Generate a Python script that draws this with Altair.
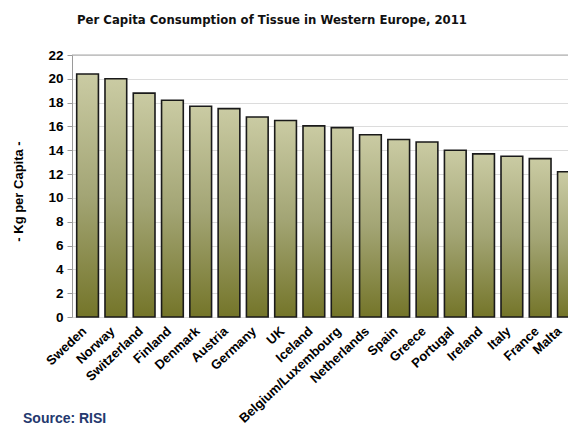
import altair as alt
import pandas as pd

countries = ["Sweden", "Norway", "Switzerland", "Finland", "Denmark", "Austria",
             "Germany", "UK", "Iceland", "Belgium/Luxembourg", "Netherlands",
             "Spain", "Greece", "Portugal", "Ireland", "Italy", "France", "Malta"]
values = [20.4, 20.0, 18.8, 18.2, 17.7, 17.5, 16.8, 16.5, 16.05, 15.9, 15.3,
          14.9, 14.7, 14.0, 13.7, 13.5, 13.3, 12.2]
y_ticks = list(range(0, 23, 2))

df = pd.DataFrame({"country": countries, "kg": values})

W = 496
H = 262

grad = alt.Gradient(
    gradient="linear",
    stops=[alt.GradientStop(color="#cacba3", offset=0),
           alt.GradientStop(color="#a3a575", offset=0.5),
           alt.GradientStop(color="#747529", offset=1)],
    x1=1, x2=1, y1=0, y2=1,
)

yscale = alt.Scale(domain=[0, 22], nice=False)

bars = alt.Chart(df).mark_bar(
    fill=grad, stroke="#1a1a1a", strokeWidth=1.6
).encode(
    x=alt.X("country:N", sort=countries, title=None,
            scale=alt.Scale(paddingInner=0.232, paddingOuter=0.166, range=[0, 512]),
            axis=alt.Axis(labelAngle=-43, labelAlign="right", labelBaseline="middle",
                          labelFont="Liberation Sans", labelFontWeight="bold",
                          labelFontSize=13, labelColor="#000000", labelPadding=12,
                          labelOffset={"condition": {"test": "datum.value == 'Malta'", "value": -9},
                                       "value": -3},
                          labelOverlap=False, ticks=False, domain=False)),
    y=alt.Y("kg:Q", title="- Kg per Capita -", scale=yscale,
            axis=alt.Axis(values=y_ticks, grid=True, gridColor="#dcdcdc",
                          gridWidth=1, domainColor="#9a9a9a", tickColor="#9a9a9a",
                          tickSize=5, labelPadding=4, labelOverlap=False,
                          labelFont="Liberation Sans", labelFontWeight="bold",
                          labelFontSize=13.5, labelColor="#000000",
                          titleFont="Liberation Sans", titleFontWeight="bold",
                          titleFontSize=13, titleColor="#000000",
                          titleAngle=-90, titleAlign="center",
                          titleBaseline="middle", titleX=-54, titleY=H / 2 + 5)),
)

top_line = alt.Chart(pd.DataFrame({"v": [22]})).mark_rule(
    color="#a8a8a8", strokeWidth=1.2
).encode(x=alt.value(0), x2=alt.value(W), y=alt.value(0))

title_txt = alt.Chart(pd.DataFrame({"t": ["Per Capita Consumption of Tissue in Western Europe, 2011"]})).mark_text(
    font="DejaVu Sans Condensed, Liberation Sans, sans-serif",
    fontWeight="bold", fontSize=13,
    align="center", baseline="alphabetic", color="#111111"
).encode(text="t:N", x=alt.value(200), y=alt.value(-31.5))

source_txt = alt.Chart(pd.DataFrame({"t": ["Source: RISI"]})).mark_text(
    font="Liberation Sans", fontWeight="bold", fontSize=14,
    align="left", baseline="alphabetic", color="#24386e"
).encode(text="t:N", x=alt.value(-49), y=alt.value(368))

chart = alt.layer(bars, top_line, title_txt, source_txt).properties(
    width=W, height=H,
    autosize=alt.AutoSizeParams(type="none"),
    padding={"left": 64, "top": 47, "right": 0, "bottom": 108},
).configure_view(stroke=None).configure(background="#ffffff")

chart.save("out.html", embed_options={"renderer": "svg", "actions": False})
